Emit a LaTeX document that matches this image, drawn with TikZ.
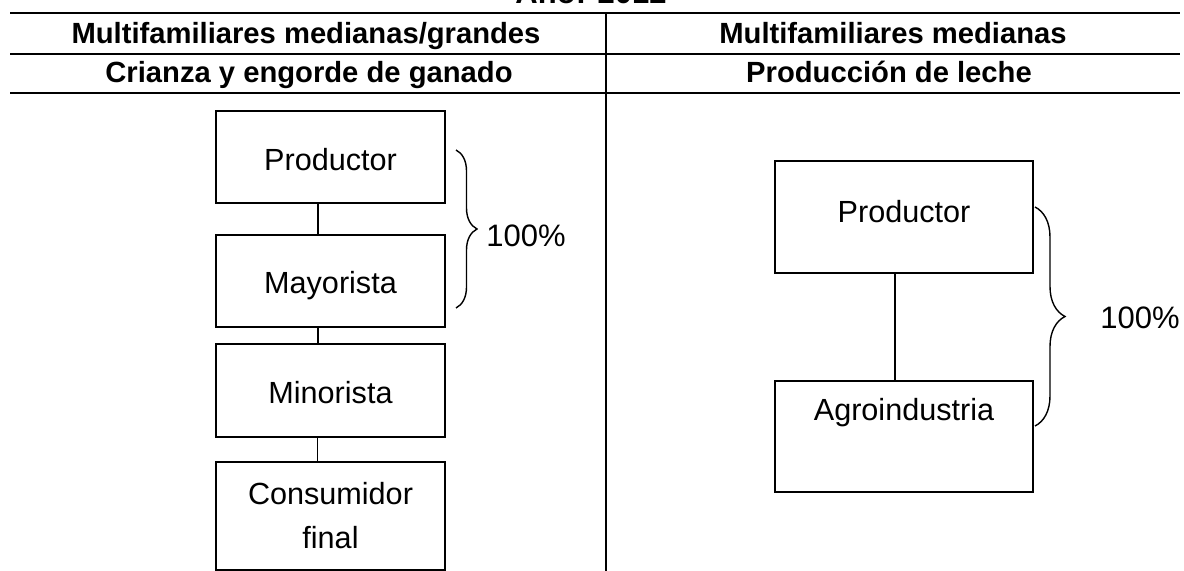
\documentclass[tikz,border=0pt]{standalone}
\usepackage{fontspec}
\setmainfont{Liberation Sans}
\usetikzlibrary{decorations.pathreplacing,positioning}

\begin{document}
\begin{tikzpicture}[x=0.5pt, y=-0.5pt,
    caja/.style={draw, line width=0.8pt, inner sep=0pt, anchor=north,
      font=\fontsize{15.3}{22}\selectfont},
    cabecera/.style={anchor=base, inner sep=0pt,
      font=\fontsize{14.6}{17}\selectfont\bfseries},
    porcentaje/.style={anchor=base west, inner sep=0pt,
      font=\fontsize{15.5}{18}\selectfont},
    enlace/.style={line width=0.8pt},
    llave/.style={decorate, line width=0.7pt},
    regla/.style={line width=1.1pt}]
  \useasboundingbox (0,0) rectangle (1184,571);
  \clip (0,0) rectangle (1184,571);

  \node[cabecera, font=\fontsize{15.5}{17}\selectfont\bfseries] (anio) at (591,4) {Año: 2012};
  \node[cabecera] (tipoA) at (306,44) {Multifamiliares medianas/grandes};
  \node[cabecera] (tipoB) at (893,44) {Multifamiliares medianas};
  \node[cabecera] (rubroA) at (309,83) {Crianza y engorde de ganado};
  \node[cabecera] (rubroB) at (889,83) {Producción de leche};

  \draw[regla] (10,13) -- (1180,13);
  \draw[regla] (10,54) -- (1180,54);
  \draw[regla] (10,93) -- (1180,93);
  \draw[regla] (606,13) -- (606,571);

  \node[caja, minimum width=114.5pt, text height=30pt, text depth=16pt] (prodA) at (330.5,110) {Productor};
  \node[caja, minimum width=114.5pt, text height=29.5pt, text depth=16.5pt] (mayA) at (330.5,234) {Mayorista};
  \node[caja, minimum width=114.5pt, text height=30pt, text depth=16.5pt] (minA) at (330.5,343) {Minorista};
  \node[caja, minimum width=114.5pt, minimum height=54pt, align=center] (consA) at (330.5,461) {Consumidor\\final};

  \draw[enlace] ([xshift=-6.25pt]prodA.south) -- ([xshift=-6.25pt]mayA.north);
  \draw[enlace] ([xshift=-6.25pt]mayA.south) -- ([xshift=-6.25pt]minA.north);
  \draw[enlace] ([xshift=-6.5pt]minA.south) -- ([xshift=-6.5pt]consA.north);

  \node[caja, minimum width=129pt, text height=31pt, text depth=25pt] (prodB) at (904,160) {Productor};
  \node[caja, minimum width=129pt, text height=20pt, text depth=35.5pt] (agroB) at (904,380) {Agroindustria};

  \draw[enlace] ([xshift=-4.5pt]prodB.south) -- ([xshift=-4.5pt]agroB.north);

  \coordinate (llaveA1) at (456,150);
  \coordinate (llaveA2) at (456,308);
  \draw[llave, decoration={brace, amplitude=10.5pt}] (llaveA1) -- (llaveA2);
  \node[porcentaje] (pctA) at (486,247) {100\%};

  \coordinate (llaveB1) at (1035,207);
  \coordinate (llaveB2) at (1035,426);
  \draw[llave, decoration={brace, amplitude=15pt}] (llaveB1) -- (llaveB2);
  \node[porcentaje] (pctB) at (1100,329) {100\%};
\end{tikzpicture}
\end{document}
